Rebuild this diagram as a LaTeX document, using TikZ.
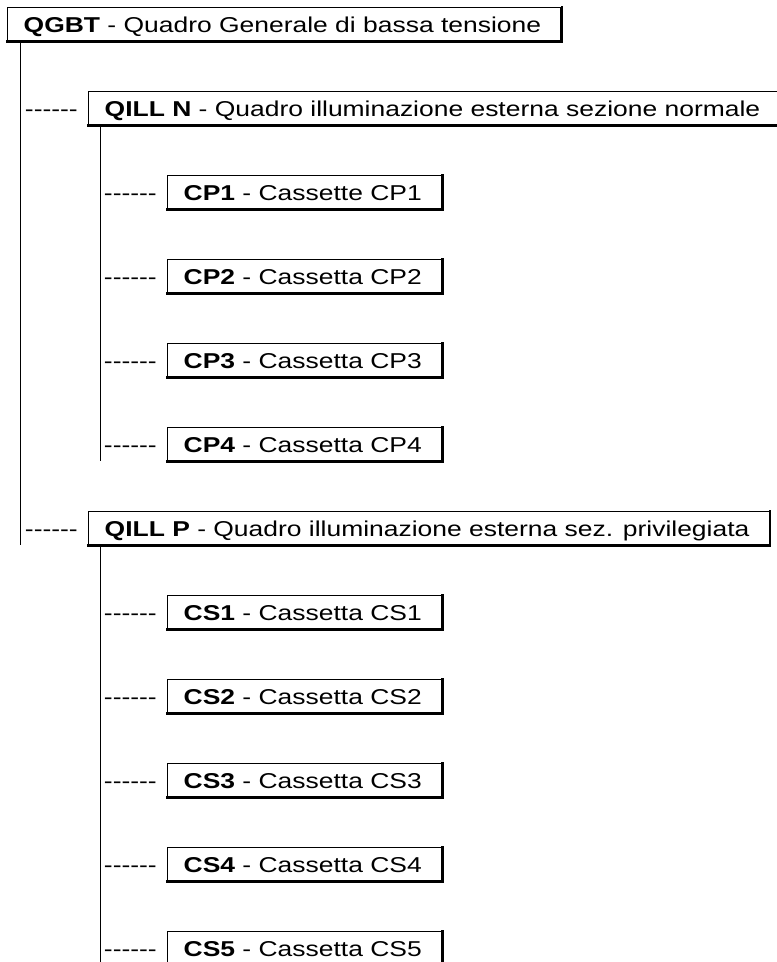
\documentclass[tikz,border=0pt]{standalone}
\usepackage{fontspec}
\setmainfont{Liberation Sans}[FakeStretch=1.23]
\usetikzlibrary{positioning,calc}

\newcommand{\dashrow}{\mbox{-}\mbox{-}\mbox{-}\mbox{-}\mbox{-}\mbox{-}}

\tikzset{
  qbox/.style={draw,line width=1.4pt,anchor=north west,inner xsep=16pt,inner ysep=0pt,
    text height=24.5pt,text depth=8.5pt,font=\fontsize{21.5}{26}\selectfont,
    execute at end node={\hspace{4pt}}},
  qedge/.style={line width=2.6pt,line cap=rect},
  dashes/.style={inner sep=0pt,font=\fontsize{21.5}{26}\selectfont},
  wire/.style={line width=0.9pt}
}

\begin{document}
\begin{tikzpicture}[x=1pt,y=-1pt]
  \useasboundingbox[fill=white] (0,0) rectangle (777,962);

  \node[qbox] (qgbt) at (7,7) {\textbf{QGBT} - Quadro Generale di bassa tensione};
  \node[qbox] (qilln) at (88,91) {\textbf{QILL N} - Quadro illuminazione esterna sezione normale};
  \node[qbox] (qillp) at (88,511) {\textbf{QILL P} - Quadro illuminazione esterna sez. privilegiata};
  \foreach \i/\t in {1/Cassette,2/Cassetta,3/Cassetta,4/Cassetta}
    \node[qbox] (cp\i) at (167,{175+84*(\i-1)}) {\textbf{CP\i} - \t\ CP\i};
  \foreach \i in {1,...,5}
    \node[qbox] (cs\i) at (167,{595+84*(\i-1)}) {\textbf{CS\i} - Cassetta CS\i};

  % heavy bottom and right edges
  \foreach \n in {qgbt,qilln,qillp,cp1,cp2,cp3,cp4,cs1,cs2,cs3,cs4,cs5}
    \draw[qedge] (\n.south west) -- (\n.south east) -- (\n.north east);

  % dashes in front of the boxes
  \foreach \n in {qilln,qillp,cp1,cp2,cp3,cp4,cs1,cs2,cs3,cs4,cs5}
    \node[dashes,left=10pt of \n.base west,anchor=base east] (d-\n) {\dashrow};

  % vertical lines
  \coordinate (t0) at ([xshift=13pt]qgbt.south west);
  \coordinate (t1) at ([xshift=12pt]qilln.south west);
  \coordinate (t2) at ([xshift=12pt]qillp.south west);
  \draw[wire] (t0) -- (t0 |- qillp.south);
  \draw[wire] (t1) -- (t1 |- cp4.south);
  \draw[wire] (t2) -- (t2 |- cs5.south);
\end{tikzpicture}
\end{document}
